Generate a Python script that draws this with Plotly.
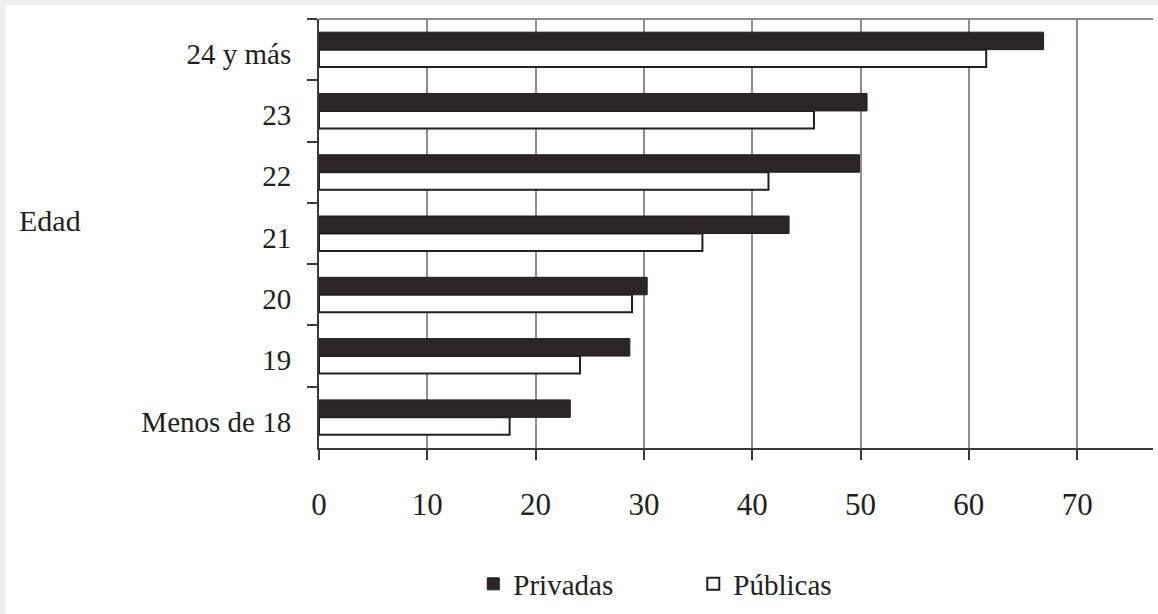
import plotly.graph_objects as go

categories = ["24 y más", "23", "22", "21", "20", "19", "Menos de 18"]
privadas = [66.9, 50.6, 49.9, 43.4, 30.3, 28.7, 23.2]
publicas = [61.6, 45.7, 41.5, 35.4, 28.9, 24.1, 17.6]
x_ticks = [0, 10, 20, 30, 40, 50, 60, 70]

FONT = "Liberation Serif"
INK = "#231f20"

fig = go.Figure()
fig.add_trace(go.Bar(
    y=categories, x=privadas, orientation="h", name="Privadas",
    marker=dict(color="#2b2526", line=dict(color=INK, width=1)),
))
fig.add_trace(go.Bar(
    y=categories, x=publicas, orientation="h", name="Públicas",
    marker=dict(color="white", line=dict(color=INK, width=2)),
))

fig.update_layout(
    width=1158, height=614,
    margin=dict(l=319, r=5, t=19, b=152),
    paper_bgcolor="#eef0ef",
    plot_bgcolor="rgba(0,0,0,0)",
    barmode="group", bargap=0.43, bargroupgap=0,
    font=dict(family=FONT, color=INK, size=29),
    showlegend=True,
    legend=dict(
        orientation="h", x=0.185, xanchor="left", y=-0.317, yanchor="middle",
        font=dict(family=FONT, size=29, color=INK),
        entrywidth=175, entrywidthmode="pixels",
        bgcolor="rgba(0,0,0,0)", traceorder="normal",
    ),
    shapes=[
        dict(type="rect", xref="paper", yref="paper",
             x0=-0.376, x1=1.006, y0=-0.5, y1=1.032,
             fillcolor="white", line=dict(width=0), layer="below"),
        dict(type="line", xref="paper", yref="paper",
             x0=0, x1=1, y0=1, y1=1,
             line=dict(color="#8c8c8c", width=2)),
    ],
    annotations=[
        dict(text="Edad", xref="paper", yref="paper", x=-0.362, y=0.53,
             xanchor="left", yanchor="middle", showarrow=False,
             font=dict(family=FONT, size=30, color=INK)),
    ],
)

fig.update_xaxes(
    range=[0, 77], tickvals=x_ticks, ticktext=[str(v) for v in x_ticks],
    showgrid=True, gridcolor="#8f8f8f", gridwidth=1.5,
    zeroline=False, showline=True, linecolor="#3a3a3a", linewidth=2,
    ticks="outside", ticklen=10, tickcolor="#3a3a3a", tickwidth=1.5,
    tickfont=dict(family=FONT, size=31, color=INK), ticklabelstandoff=18,
)
fig.update_yaxes(
    type="category", categoryorder="array", categoryarray=categories,
    autorange="reversed", tickson="boundaries",
    showgrid=False, zeroline=False, showline=True, linecolor="#3a3a3a", linewidth=2,
    ticks="outside", ticklen=10, tickcolor="#3a3a3a", tickwidth=1.5,
    tickfont=dict(family=FONT, size=29, color=INK), ticklabelstandoff=20,
    ticklabelshift=-4,
)

fig.write_html(
    "out.html",
    config={"displayModeBar": False},
    post_script="document.body.style.margin='0';document.body.style.padding='0';",
)
